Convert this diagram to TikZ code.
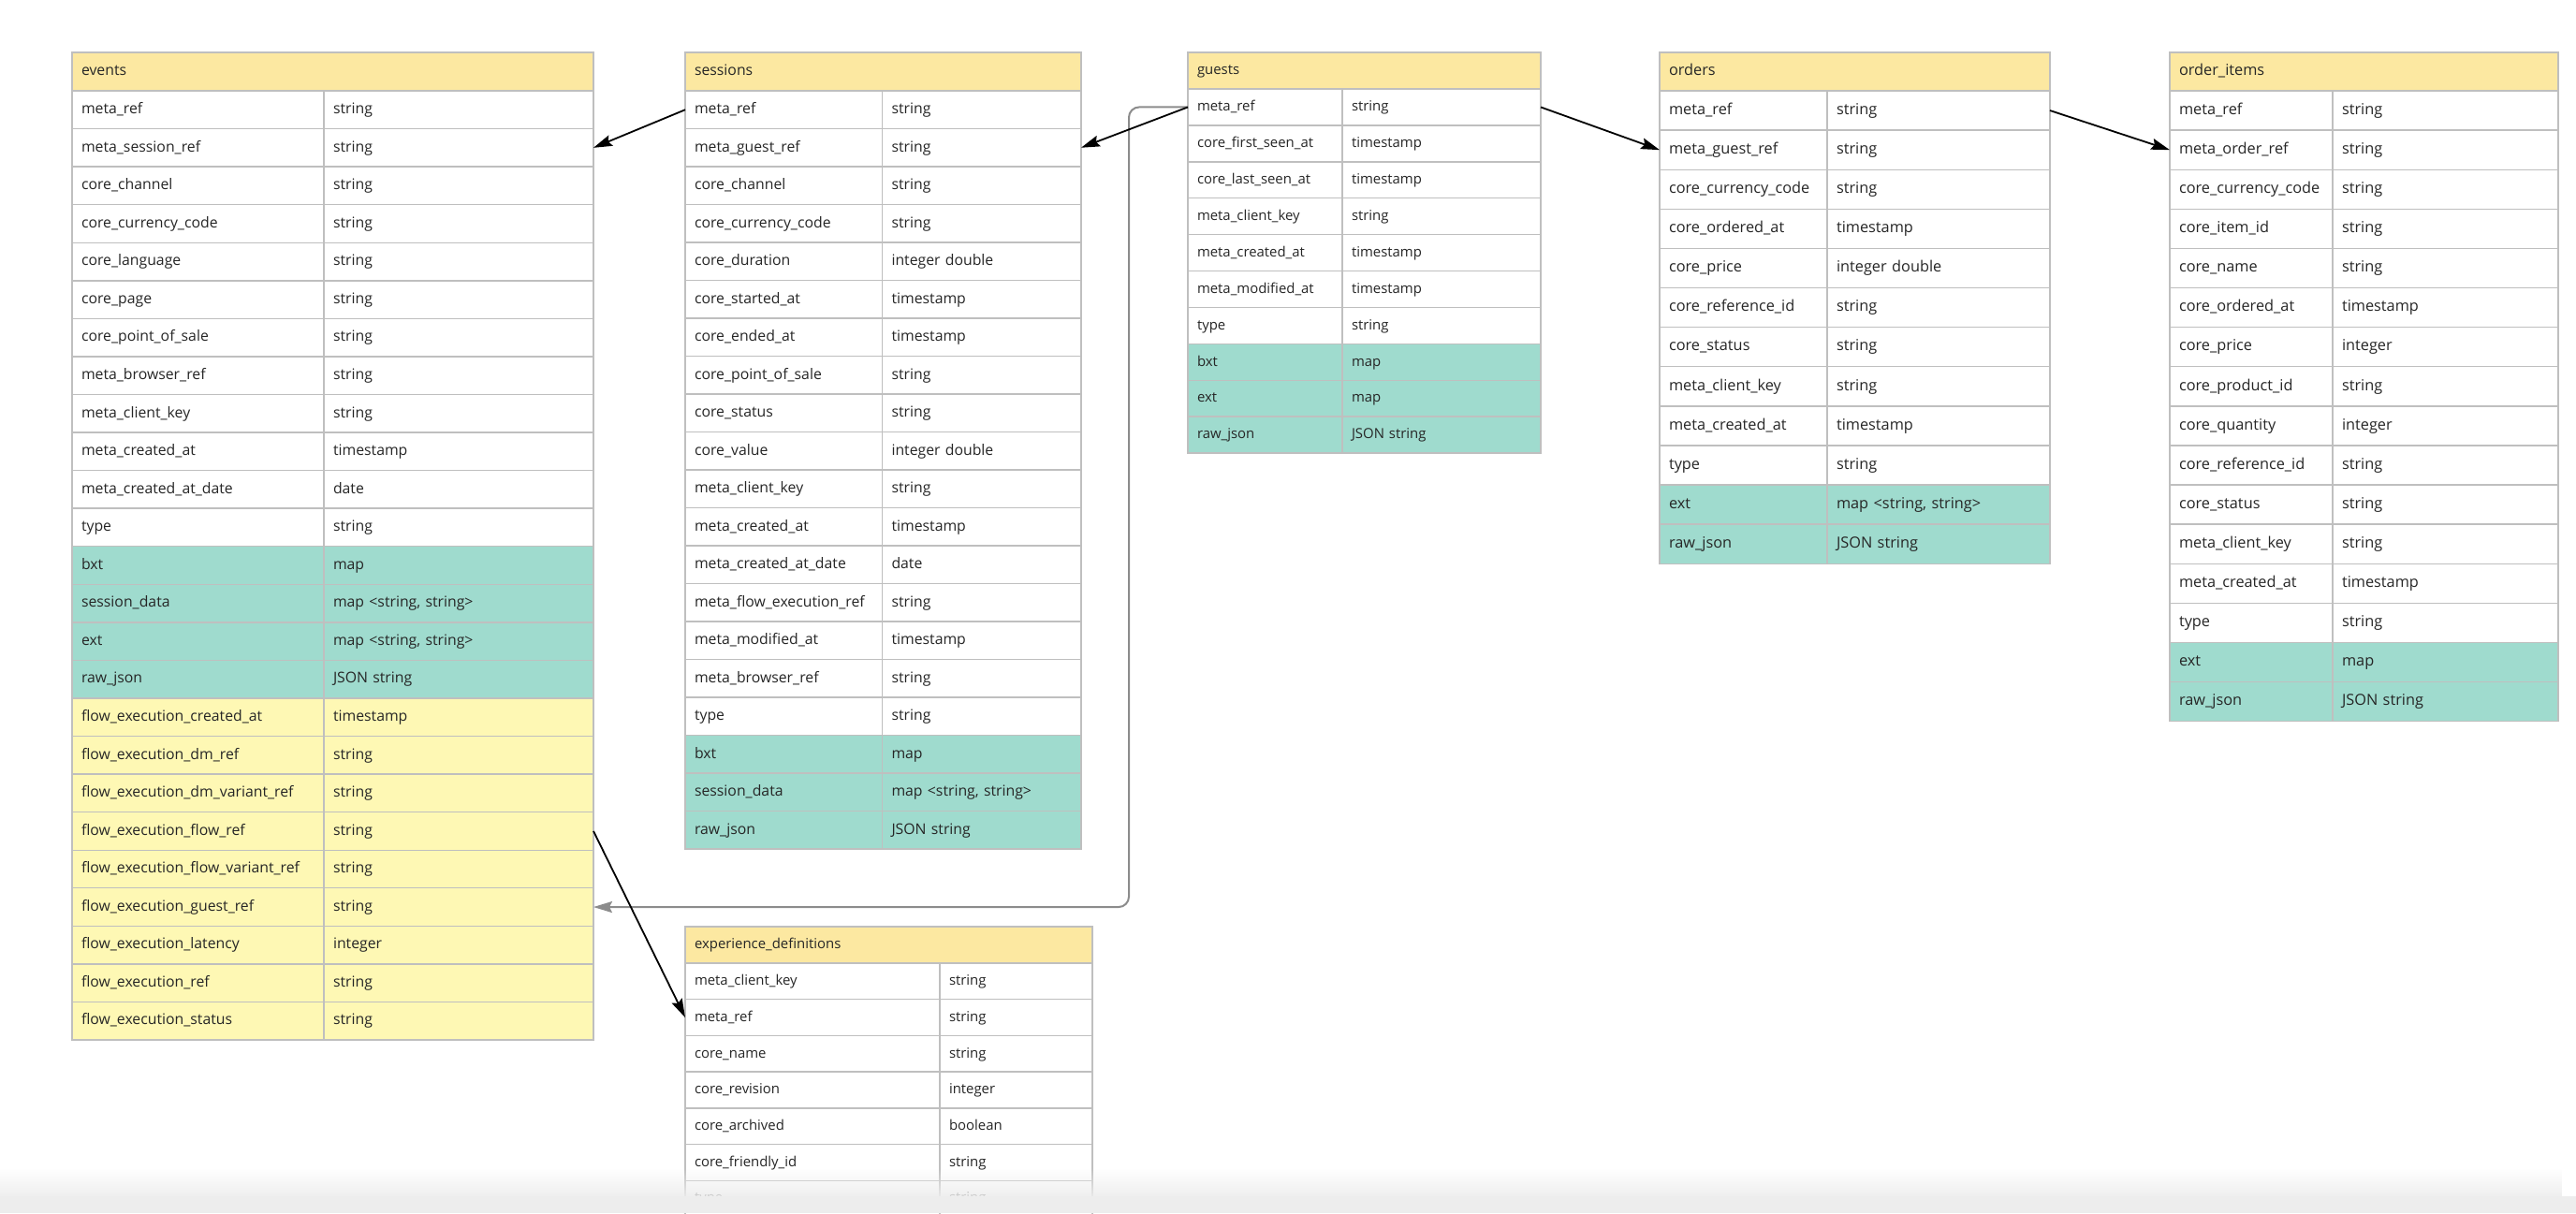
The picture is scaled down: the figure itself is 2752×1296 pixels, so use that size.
\documentclass[tikz,border=0pt]{standalone}
\usepackage{fontspec}
\setmainfont{Open Sans}
\usetikzlibrary{arrows.meta,fadings,calc}
\definecolor{hdrY}{HTML}{FCE8A1}
\definecolor{rowW}{HTML}{FFFFFF}
\definecolor{rowT}{HTML}{9FDBCE}
\definecolor{rowY}{HTML}{FEF8B4}
\definecolor{bordergray}{HTML}{BFBFBF}
\definecolor{txt}{HTML}{262626}
\definecolor{linkgray}{HTML}{8C8C8C}
\definecolor{fadegray}{HTML}{EDEDED}
\tikzset{
  cellbase/.style={draw=bordergray, line width=1.4pt, anchor=north west, outer sep=0pt,
    inner xsep=10pt, inner ysep=0pt, align=left, text=txt, text height=1.05em, text depth=0.2em},
  rowcell/.style={cellbase},
  hdrcell/.style={cellbase, fill=hdrY},
  tabfont/.style={every node/.append style={font=\fontsize{#1}{#1}\selectfont}},
  link/.style={draw=black, line width=1.8pt, -{Stealth[length=20pt,width=12pt,inset=3pt]}},
  graylink/.style={draw=linkgray, line width=2pt, rounded corners=11pt, -{Stealth[length=20pt,width=12pt,inset=3pt,fill=linkgray]}}
}
% #1 name #2 x #3 y #4 width #5 split #6 header h #7 row h #8 title #9 rows
\newcommand{\erdtable}[9]{%
  \pgfmathsetmacro\erdwl{#5-20}%
  \pgfmathsetmacro\erdwr{#4-#5-20}%
  \pgfmathsetmacro\erdwh{#4-20}%
  \node[hdrcell, text width=\erdwh pt, minimum height=#6] (#1) at (#2,#3) {#8};
  \foreach \n/\t/\c [count=\i] in {#9} {
    \pgfmathsetmacro\erdy{#3+#6+(\i-1)*#7}
    \node[rowcell, fill=\c, text width=\erdwl pt, minimum height=#7] (#1-\i) at (#2,\erdy) {\n};
    \node[rowcell, fill=\c, text width=\erdwr pt, minimum height=#7] (#1-\i-t) at ({#2+#5},\erdy) {\t};
  }%
}
\begin{document}
\begin{tikzpicture}[x=1pt,y=-1pt]
\fill[white] (0,0) rectangle (2752,1296);
\useasboundingbox (0,0) rectangle (2752,1296);

\begin{scope}[tabfont=15.8]
\erdtable{events}{77}{56}{557}{269}{41}{40.56}{events}{
meta\_ref/string/rowW,
meta\_session\_ref/string/rowW,
core\_channel/string/rowW,
core\_currency\_code/string/rowW,
core\_language/string/rowW,
core\_page/string/rowW,
core\_point\_of\_sale/string/rowW,
meta\_browser\_ref/string/rowW,
meta\_client\_key/string/rowW,
meta\_created\_at/timestamp/rowW,
meta\_created\_at\_date/date/rowW,
type/string/rowW,
bxt/map/rowT,
session\_data/{map <string, string>}/rowT,
ext/{map <string, string>}/rowT,
raw\_json/JSON string/rowT,
flow\_execution\_created\_at/timestamp/rowY,
flow\_execution\_dm\_ref/string/rowY,
flow\_execution\_dm\_variant\_ref/string/rowY,
flow\_execution\_flow\_ref/string/rowY,
flow\_execution\_flow\_variant\_ref/string/rowY,
flow\_execution\_guest\_ref/string/rowY,
flow\_execution\_latency/integer/rowY,
flow\_execution\_ref/string/rowY,
flow\_execution\_status/string/rowY}
\erdtable{sessions}{732}{56}{423}{210.5}{41}{40.5}{sessions}{
meta\_ref/string/rowW,
meta\_guest\_ref/string/rowW,
core\_channel/string/rowW,
core\_currency\_code/string/rowW,
core\_duration/integer double/rowW,
core\_started\_at/timestamp/rowW,
core\_ended\_at/timestamp/rowW,
core\_point\_of\_sale/string/rowW,
core\_status/string/rowW,
core\_value/integer double/rowW,
meta\_client\_key/string/rowW,
meta\_created\_at/timestamp/rowW,
meta\_created\_at\_date/date/rowW,
meta\_flow\_execution\_ref/string/rowW,
meta\_modified\_at/timestamp/rowW,
meta\_browser\_ref/string/rowW,
type/string/rowW,
bxt/map/rowT,
session\_data/{map <string, string>}/rowT,
raw\_json/JSON string/rowT}
\end{scope}

\begin{scope}[tabfont=14.9]
\erdtable{guests}{1269}{56}{377}{165}{39}{38.9}{guests}{
meta\_ref/string/rowW,
core\_first\_seen\_at/timestamp/rowW,
core\_last\_seen\_at/timestamp/rowW,
meta\_client\_key/string/rowW,
meta\_created\_at/timestamp/rowW,
meta\_modified\_at/timestamp/rowW,
type/string/rowW,
bxt/map/rowT,
ext/map/rowT,
raw\_json/JSON string/rowT}
\erdtable{expdefs}{732}{990}{435}{272}{39}{38.7}{experience\_definitions}{
meta\_client\_key/string/rowW,
meta\_ref/string/rowW,
core\_name/string/rowW,
core\_revision/integer/rowW,
core\_archived/boolean/rowW,
core\_friendly\_id/string/rowW,
type/string/rowW}
\end{scope}

\begin{scope}[tabfont=16.3]
\erdtable{orders}{1773}{56}{417}{179}{41}{42.1}{orders}{
meta\_ref/string/rowW,
meta\_guest\_ref/string/rowW,
core\_currency\_code/string/rowW,
core\_ordered\_at/timestamp/rowW,
core\_price/integer double/rowW,
core\_reference\_id/string/rowW,
core\_status/string/rowW,
meta\_client\_key/string/rowW,
meta\_created\_at/timestamp/rowW,
type/string/rowW,
ext/{map <string, string>}/rowT,
raw\_json/JSON string/rowT}
\erdtable{oitems}{2318}{56}{415}{174}{41}{42.1}{order\_items}{
meta\_ref/string/rowW,
meta\_order\_ref/string/rowW,
core\_currency\_code/string/rowW,
core\_item\_id/string/rowW,
core\_name/string/rowW,
core\_ordered\_at/timestamp/rowW,
core\_price/integer/rowW,
core\_product\_id/string/rowW,
core\_quantity/integer/rowW,
core\_reference\_id/string/rowW,
core\_status/string/rowW,
meta\_client\_key/string/rowW,
meta\_created\_at/timestamp/rowW,
type/string/rowW,
ext/map/rowT,
raw\_json/JSON string/rowT}
\end{scope}

% connectors
\coordinate (gv) at (1206,0);
\draw[graylink] (guests-1.west) -- (guests-1.west -| gv) -- (gv |- events-22-t.east) -- (events-22-t.east);
\draw[link] (sessions-1.west) -- (events-2-t.east);
\draw[link] (guests-1.west) -- (sessions-2-t.east);
\draw[link] (guests-1-t.east) -- (orders-2.west);
\draw[link] (orders-1-t.east) -- (oitems-2.west);
\draw[link] (events-20-t.east) -- (expdefs-2.west);

% bottom fade
\fill[fadegray, path fading=north, fill opacity=0.9] (0,1248) rectangle (2752,1278);
\fill[fadegray] (0,1278) rectangle (2752,1296);
\end{tikzpicture}
\end{document}
